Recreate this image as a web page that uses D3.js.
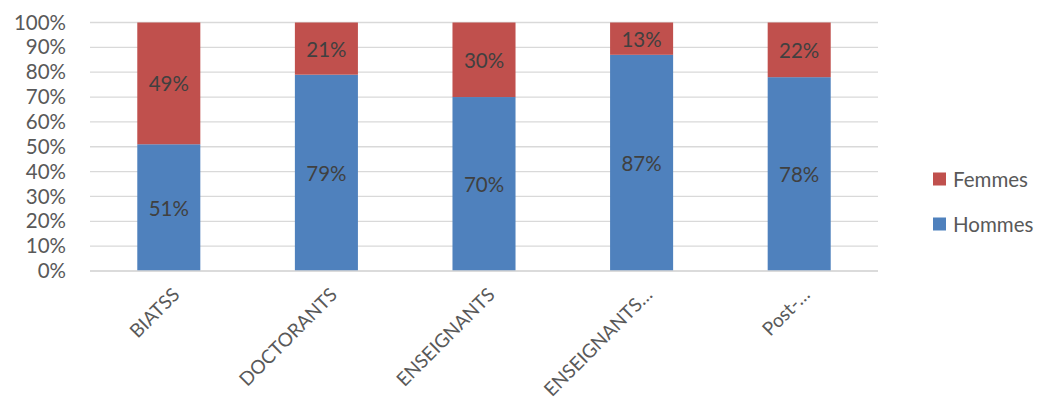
<!DOCTYPE html>
<html>
<head>
<meta charset="utf-8">
<script src="https://cdn.jsdelivr.net/npm/d3@7"></script>
<style>
  html, body { margin: 0; padding: 0; background: #fff; }
  svg { display: block; font-family: Lato, "Open Sans", sans-serif; }
</style>
</head>
<body>
<svg id="chart" width="1039" height="399"></svg>
<script>
// Répartition Hommes / Femmes par catégorie de personnel
const categories = ["BIATSS", "DOCTORANTS", "ENSEIGNANTS", "ENSEIGNANTS…", "Post-…"];
const hommes = [51, 79, 70, 87, 78];
const femmes = [49, 21, 30, 13, 22];
const yTicks = [0, 10, 20, 30, 40, 50, 60, 70, 80, 90, 100];
const seriesNames = ["Hommes", "Femmes"];
const seriesColors = ["#4F81BD", "#C0504D"];

const FONT = "20.5px";
const svg = d3.select("#chart");
const margin = { left: 90, right: 161, top: 22.5, bottom: 128 };
const W = 1039, H = 399;

const x = d3.scaleBand()
  .domain(categories)
  .range([margin.left, W - margin.right])
  .paddingInner(0.6)
  .paddingOuter(0.3);

const y = d3.scaleLinear()
  .domain([0, 100])
  .range([H - margin.bottom, margin.top]);

// Gridlines
svg.append("g")
  .selectAll("line")
  .data(yTicks)
  .join("line")
  .attr("x1", margin.left)
  .attr("x2", W - margin.right)
  .attr("y1", d => y(d))
  .attr("y2", d => y(d))
  .attr("stroke", "#D9D9D9")
  .attr("stroke-width", 1.3);

// Y axis labels
const yAxis = d3.axisLeft(y)
  .tickValues(yTicks)
  .tickFormat(d => d + "%")
  .tickSize(0)
  .tickPadding(24);
const gy = svg.append("g")
  .attr("transform", `translate(${margin.left},0)`)
  .call(yAxis);
gy.select(".domain").remove();
gy.selectAll("text")
  .attr("fill", "#595959")
  .style("font-size", FONT)
  .style("font-family", "Lato, 'Open Sans', sans-serif");

// Stacked data
const rows = categories.map((c, i) => ({ cat: c, Hommes: hommes[i], Femmes: femmes[i] }));
const stack = d3.stack().keys(seriesNames)(rows);

const layers = svg.append("g")
  .selectAll("g")
  .data(stack)
  .join("g")
  .attr("fill", (d, i) => seriesColors[i]);

layers.selectAll("rect")
  .data(d => d)
  .join("rect")
  .attr("x", d => x(d.data.cat))
  .attr("width", x.bandwidth())
  .attr("y", d => y(d[1]))
  .attr("height", d => y(d[0]) - y(d[1]));

// Value labels centered in each segment
layers.selectAll("text")
  .data(d => d)
  .join("text")
  .attr("x", d => x(d.data.cat) + x.bandwidth() / 2)
  .attr("y", d => y((d[0] + d[1]) / 2))
  .attr("text-anchor", "middle")
  .attr("dominant-baseline", "central")
  .attr("fill", "#404040")
  .style("font-size", FONT)
  .text(d => (d[1] - d[0]) + "%");

// X axis line
svg.append("line")
  .attr("x1", margin.left)
  .attr("x2", W - margin.right)
  .attr("y1", y(0))
  .attr("y2", y(0))
  .attr("stroke", "#D9D9D9")
  .attr("stroke-width", 1.3);

// Category labels, rotated
const xAxis = d3.axisBottom(x).tickSize(0).tickPadding(0);
const gx = svg.append("g")
  .attr("transform", `translate(0,${y(0)})`)
  .call(xAxis);
gx.select(".domain").remove();
gx.selectAll("text")
  .attr("fill", "#595959")
  .style("font-size", "19px")
  .style("font-family", "Lato, 'Open Sans', sans-serif")
  .attr("text-anchor", "end")
  .attr("dy", null)
  .attr("transform", "translate(12,25) rotate(-45)");

// Legend
const legendItems = [
  { name: "Femmes", color: seriesColors[1], cy: 179 },
  { name: "Hommes", color: seriesColors[0], cy: 224 }
];
const lg = svg.append("g").selectAll("g")
  .data(legendItems)
  .join("g");
lg.append("rect")
  .attr("x", 933)
  .attr("y", d => d.cy - 6.5)
  .attr("width", 13)
  .attr("height", 13)
  .attr("fill", d => d.color);
lg.append("text")
  .attr("x", 953)
  .attr("y", d => d.cy)
  .attr("dominant-baseline", "central")
  .attr("fill", "#595959")
  .style("font-size", FONT)
  .text(d => d.name);
</script>
</body>
</html>
